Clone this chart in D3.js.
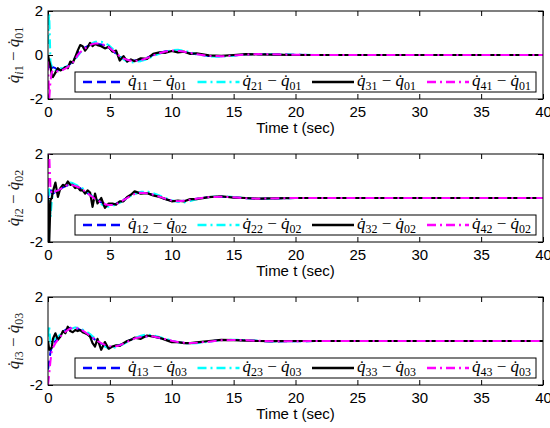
<!DOCTYPE html>
<html><head><meta charset="utf-8">
<script src="https://cdn.jsdelivr.net/npm/d3@7"></script>
<style>body{margin:0;background:#fff}</style>
</head><body>
<svg id="c" width="550" height="428"></svg>
<script>
// ---------- data ----------
const timeSec = [0,0.1,0.2,0.3,0.4,0.6,0.8,1.0,1.2,1.4,1.6,1.8,2.0,2.2,2.4,2.6,2.8,3.0,3.2,3.4,3.6,3.8,4.0,4.3,4.6,4.9,5.2,5.5,5.8,6.1,6.4,6.7,7.0,7.5,8.0,8.5,9.0,9.5,10,10.5,11,11.5,12,13,14,15,16,17,18,20,22,25,30,35,40];
const xTicks = [0,5,10,15,20,25,30,35,40];
const yTicks = [-2,0,2];
const xDomain = [0,40];
const yDomain = [-2,2];
const agentIdx = ["1","2","3","4"];
const jointIdx = ["1","2","3"];
const xLabel = "Time t (sec)";

// joint 1
const dq11 = [-0.2,-0.6,-0.7,-0.6,-0.55,-0.6,-0.7,-0.65,-0.6,-0.55,-0.5,-0.4,-0.3,-0.1,0.1,0.2,0.3,0.35,0.4,0.45,0.5,0.5,0.5,0.48,0.42,0.33,0.2,0.05,-0.08,-0.17,-0.22,-0.25,-0.25,-0.22,-0.12,0.0,0.1,0.17,0.2,0.18,0.14,0.08,0.03,-0.05,-0.06,-0.02,0.03,0.04,0.03,0.01,0,0,0,0,0];
const dq21 = [0.5,1.9,-0.3,-0.5,-0.6,-0.7,-0.65,-0.6,-0.6,-0.55,-0.5,-0.45,-0.35,-0.2,-0.05,0.1,0.2,0.3,0.35,0.45,0.55,0.6,0.6,0.6,0.55,0.45,0.3,0.12,-0.05,-0.2,-0.3,-0.35,-0.32,-0.28,-0.2,-0.05,0.05,0.15,0.22,0.24,0.2,0.12,0.05,-0.06,-0.08,-0.03,0.03,0.05,0.03,0.01,0,0,0,0,0];
const dq31 = [0,-0.3,-0.5,-0.9,-1.0,-0.8,-0.6,-0.7,-0.65,-0.55,-0.6,-0.3,-0.35,-0.1,0.2,0.45,0.4,0.2,0.35,0.55,0.4,0.5,0.45,0.4,0.3,0.38,0.15,0.2,-0.25,-0.05,-0.3,-0.2,-0.28,-0.15,-0.18,0.05,0.12,0.1,0.18,0.12,0.15,0.05,0.08,-0.02,-0.04,0.0,0.04,0.03,0.02,0,0,0,0,0,0];
const dq41 = [-0.3,-2.0,-1.2,-0.8,-0.7,-0.7,-0.75,-0.7,-0.68,-0.62,-0.55,-0.45,-0.35,-0.2,0.0,0.12,0.22,0.3,0.38,0.45,0.5,0.52,0.52,0.5,0.45,0.36,0.22,0.08,-0.06,-0.15,-0.22,-0.26,-0.27,-0.24,-0.14,-0.02,0.08,0.16,0.2,0.19,0.15,0.09,0.04,-0.04,-0.06,-0.03,0.02,0.04,0.03,0.01,0,0,0,0,0];

// joint 2
const dq12 = [0,0.3,0.5,0.2,0.2,0.28,0.33,0.4,0.48,0.53,0.58,0.6,0.58,0.54,0.5,0.45,0.38,0.3,0.22,0.13,0.05,-0.04,-0.1,-0.2,-0.27,-0.3,-0.3,-0.26,-0.18,-0.08,0.02,0.12,0.2,0.25,0.22,0.14,0.05,-0.05,-0.12,-0.15,-0.13,-0.08,-0.03,0.04,0.06,0.03,-0.01,-0.03,-0.02,0,0,0,0,0,0];
const dq22 = [0.3,0.4,-0.9,-0.2,0.2,0.3,0.35,0.42,0.5,0.56,0.64,0.7,0.68,0.62,0.56,0.5,0.44,0.36,0.28,0.18,0.08,-0.04,-0.14,-0.28,-0.38,-0.4,-0.36,-0.3,-0.22,-0.12,-0.02,0.1,0.2,0.28,0.3,0.22,0.12,0.0,-0.1,-0.18,-0.2,-0.14,-0.06,0.04,0.08,0.05,0.0,-0.04,-0.03,0,0,0,0,0,0];
const dq32 = [0,-2.0,-0.1,0.0,0.3,0.7,0.05,0.45,0.6,0.55,0.75,0.6,0.6,0.45,0.5,0.35,0.35,0.2,0.35,0.25,-0.4,0.2,-0.25,0.0,-0.45,-0.25,-0.25,-0.3,-0.15,-0.15,0.05,0.15,0.3,0.2,0.22,0.12,0.05,-0.05,-0.15,-0.12,-0.15,-0.05,-0.05,0.04,0.08,0.02,0.0,-0.03,-0.02,0,0,0,0,0,0];
const dq42 = [0.5,2.0,0.5,0.2,0.2,0.3,0.35,0.4,0.5,0.55,0.6,0.6,0.58,0.55,0.5,0.45,0.38,0.3,0.22,0.12,0.05,-0.05,-0.1,-0.2,-0.28,-0.32,-0.32,-0.28,-0.2,-0.1,0.0,0.1,0.18,0.24,0.22,0.15,0.06,-0.04,-0.12,-0.15,-0.13,-0.08,-0.03,0.04,0.06,0.03,-0.01,-0.03,-0.02,0,0,0,0,0,0];

// joint 3
const dq13 = [-1.3,-0.9,-0.5,-0.3,-0.15,0.0,0.15,0.3,0.42,0.5,0.56,0.6,0.62,0.6,0.56,0.5,0.44,0.38,0.3,0.22,0.14,0.06,-0.02,-0.12,-0.2,-0.24,-0.25,-0.23,-0.18,-0.1,-0.02,0.06,0.13,0.2,0.22,0.2,0.14,0.07,0.0,-0.06,-0.09,-0.1,-0.08,-0.02,0.04,0.05,0.03,0.0,-0.02,-0.01,0,0,0,0,0];
const dq23 = [0.2,0.7,-0.2,-0.1,0.05,0.1,0.2,0.3,0.38,0.45,0.5,0.55,0.58,0.62,0.6,0.58,0.52,0.46,0.4,0.32,0.22,0.12,0.02,-0.1,-0.25,-0.33,-0.32,-0.28,-0.22,-0.14,-0.05,0.05,0.14,0.24,0.3,0.26,0.18,0.1,0.02,-0.06,-0.1,-0.12,-0.1,-0.03,0.04,0.06,0.04,0.01,-0.02,-0.01,0,0,0,0,0];
const dq33 = [0,-0.4,-0.35,-0.3,0.1,0.35,0.05,0.2,0.45,0.35,0.65,0.45,0.4,0.5,0.45,0.5,0.4,0.35,0.3,0.2,-0.1,-0.25,0.1,-0.4,-0.05,-0.35,-0.25,-0.2,-0.22,-0.1,0.0,0.05,0.15,0.1,0.25,0.2,0.15,0.05,-0.05,-0.05,-0.1,-0.1,-0.06,0.0,0.05,0.04,0.02,0.0,-0.01,0,0,0,0,0,0];
const dq43 = [-2.0,-1.5,-0.9,-0.5,-0.3,-0.1,0.05,0.2,0.32,0.42,0.5,0.56,0.6,0.6,0.58,0.53,0.47,0.4,0.32,0.24,0.16,0.08,0.0,-0.1,-0.18,-0.23,-0.25,-0.24,-0.2,-0.12,-0.04,0.04,0.11,0.18,0.21,0.2,0.15,0.08,0.01,-0.05,-0.08,-0.09,-0.08,-0.03,0.03,0.05,0.03,0.01,-0.01,-0.01,0,0,0,0,0];

const panelSeries = [[dq11,dq21,dq31,dq41],[dq12,dq22,dq32,dq42],[dq13,dq23,dq33,dq43]];

// ---------- styles ----------
const colors = ["#0000ff","#00ffff","#000000","#ff00ff"];
const dashes = ["9,5","9,4,2,4",null,"9,4,2,4"];
const widths = [2,2,2.2,2];

// ---------- layout ----------
const L = 48, R = 543, H = 88;
const tops = [11,154,297];
const svg = d3.select("#c");
const x = d3.scaleLinear().domain(xDomain).range([L,R]);
const numFont = "'Liberation Sans', Arial, sans-serif";
const mathFont = "'Liberation Serif', 'Times New Roman', serif";

function mathLabel(sel, a, b, c, italicA){
  // q̇_{ab} − q̇_{0c}
  const t = sel.style("font-family", mathFont);
  t.append("tspan").attr("font-style","italic").text("q\u0307");
  const s1 = t.append("tspan").attr("dy",3.5).attr("font-size","0.7em");
  if (italicA) s1.append("tspan").attr("font-style","italic").text(a);
  else s1.append("tspan").text(a);
  s1.append("tspan").text(b);
  t.append("tspan").attr("dy",-3.5).text(" \u2212 ");
  t.append("tspan").attr("font-style","italic").text("q\u0307");
  t.append("tspan").attr("dy",3.5).attr("font-size","0.7em").text("0"+c);
}

tops.forEach((top, pi) => {
  const y = d3.scaleLinear().domain(yDomain).range([top+H, top]);
  const g = svg.append("g");
  const clipId = "clip"+pi;
  svg.append("clipPath").attr("id",clipId).append("rect")
    .attr("x",L).attr("y",top).attr("width",R-L).attr("height",H);

  // axes
  const ax = [
    d3.axisBottom(x).tickValues(xTicks).tickSize(-5).tickPadding(7),
    d3.axisTop(x).tickValues(xTicks).tickSize(-5).tickFormat(""),
    d3.axisLeft(y).tickValues(yTicks).tickSize(-5).tickPadding(5).tickFormat(d => d < 0 ? "-" + Math.abs(d) : d),
    d3.axisRight(y).tickValues(yTicks).tickSize(-5).tickFormat("")
  ];
  const trans = [`translate(0,${top+H})`,`translate(0,${top})`,`translate(${L},0)`,`translate(${R},0)`];
  ax.forEach((a,i) => {
    const ag = g.append("g").attr("transform",trans[i]).call(a);
    ag.select(".domain").remove();
    ag.selectAll("line").attr("stroke","#000");
    ag.selectAll("text").attr("fill","#000").style("font-family",numFont).style("font-size","15px");
  });

  // lines
  const line = d3.line().x((d,i)=>x(timeSec[i])).y(d=>y(d));
  const lg = g.append("g").attr("clip-path",`url(#${clipId})`);
  panelSeries[pi].forEach((s,si) => {
    lg.append("path").datum(s).attr("d",line).attr("fill","none")
      .attr("stroke",colors[si]).attr("stroke-width",widths[si])
      .attr("stroke-dasharray",dashes[si]).attr("stroke-linejoin","round");
  });

  // box
  g.append("rect").attr("x",L).attr("y",top).attr("width",R-L).attr("height",H)
    .attr("fill","none").attr("stroke","#000").attr("stroke-width",1);

  // x label
  g.append("text").attr("x",(L+R)/2).attr("y",top+H+34).attr("text-anchor","middle")
    .style("font-family",numFont).style("font-size","15px").text(xLabel);

  // y label
  const yl = g.append("text").attr("transform",`translate(19,${top+H/2}) rotate(-90)`)
    .attr("text-anchor","middle").style("font-size","17px").attr("fill","#222");
  mathLabel(yl, "i", jointIdx[pi], jointIdx[pi], true);

  // legend
  const ly = top+61;
  g.append("rect").attr("x",75).attr("y",ly).attr("width",461).attr("height",20)
    .attr("fill","#fff").attr("stroke","#000").attr("stroke-width",1);
  const lx = [83,197.5,312,427];
  agentIdx.forEach((a,si) => {
    g.append("line").attr("x1",lx[si]).attr("x2",lx[si]+42).attr("y1",ly+10).attr("y2",ly+10)
      .attr("stroke",colors[si]).attr("stroke-width",2.5).attr("stroke-dasharray",dashes[si]);
    const t = g.append("text").attr("x",lx[si]+45).attr("y",ly+14).style("font-size","17px");
    mathLabel(t, a, jointIdx[pi], jointIdx[pi], false);
  });
});
</script>
</body></html>
